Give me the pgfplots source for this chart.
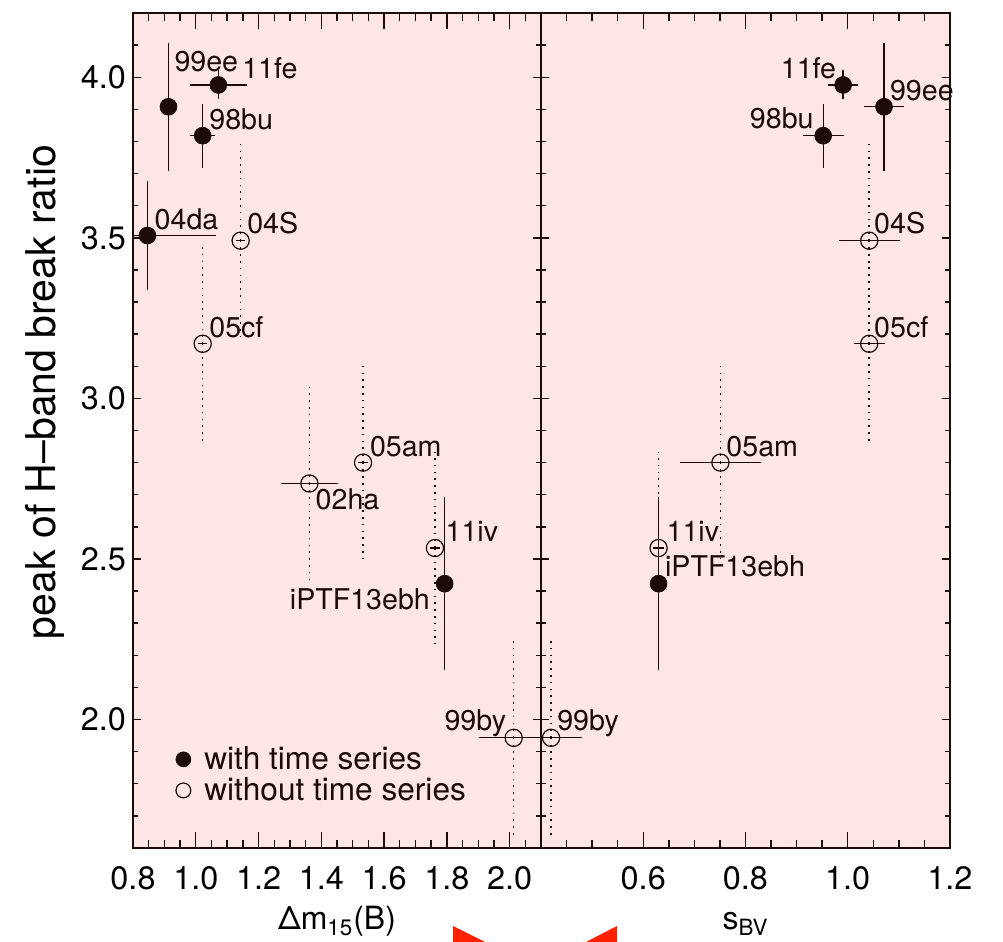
\documentclass[border=0pt]{standalone}
\usepackage{pgfplots}
\pgfplotsset{compat=1.18}
\usepackage{fontspec}
\setmainfont{TeX Gyre Heros}
\definecolor{bgpink}{RGB}{253,230,227}
\definecolor{ink}{RGB}{28,10,8}
\definecolor{arrowred}{RGB}{255,34,0}
\newcommand{\lab}{\fontsize{14.3}{16}\selectfont}
\begin{document}
\begin{tikzpicture}
\useasboundingbox (0pt,0pt) rectangle (501.5pt,471pt);
\pgfplotsset{
  panel/.style={
    scale only axis, height=417.5pt, anchor=south west,
    ymin=1.6, ymax=4.2,
    axis line style={ink, line width=0.8pt},
    tick style={ink, line width=0.7pt},
    tick align=inside,
    /pgf/number format/assume math mode=true,
    ticklabel style={font=\fontsize{16.2}{18}\selectfont, text=black},
  },
  main/.style={panel,
    major tick length=8pt, minor tick length=4pt,
    ytick={2.0,2.5,3.0,3.5,4.0},
    ytick style={draw=none},
    minor ytick={},
    xticklabel style={yshift=-5.5pt},
    axis background/.style={fill=bgpink},
    xlabel style={font=\fontsize{16}{18}\selectfont, at={(axis description cs:0.5,-0.0982)}, anchor=base},
  },
  over/.style={panel,
    major tick length=4pt, minor tick length=2.5pt,
    xtick=\empty, minor xtick={},
    ytick={2.0,2.5,3.0,3.5,4.0}, yticklabels={},
    minor ytick={1.6,1.7,...,4.2},
    axis line style={draw=none},
  },
  filled/.style={only marks, mark=*, mark size=4.2pt, color=ink, mark options={fill=ink, draw=ink},
    error bars/x dir=both, error bars/x explicit, error bars/y dir=both, error bars/y explicit,
    error bars/error mark=none,
    error bars/error bar style={line width=0.65pt, draw=ink, solid}},
  opendot/.style={draw=none, mark=none,
    error bars/y dir=both, error bars/y explicit, error bars/error mark=none,
    error bars/error bar style={line width=0.75pt, draw=ink, dash pattern=on 0.8pt off 2.6pt}},
  openmark/.style={only marks, mark=o, mark size=4.3pt, color=ink, mark options={draw=ink, line width=0.6pt, solid},
    error bars/x dir=both, error bars/x explicit, error bars/error mark=none,
    error bars/error bar style={line width=0.65pt, draw=ink, solid}},
}
% ---------------- left panel ----------------
\begin{axis}[main, at={(66.5pt,47pt)}, width=204pt,
  xmin=0.8, xmax=2.1,
  xtick={0.8,1.0,1.2,1.4,1.6,1.8,2.0},
  xticklabels={0.8,1.0,1.2,1.4,1.6,1.8,2.0},
  minor xtick={0.85,0.9,0.95,1.05,1.1,1.15,1.25,1.3,1.35,1.45,1.5,1.55,1.65,1.7,1.75,1.85,1.9,1.95,2.05},
  yticklabels={2.0,2.5,3.0,3.5,4.0},
  xlabel={Δm\textsubscript{15}(B)},
  ylabel={peak of H–band break ratio},
  ylabel style={font=\fontsize{20.5}{22}\selectfont, at={(axis description cs:-0.2157,0.546)}, anchor=center},
  legend style={at={(axis description cs:0.098,0.127)}, anchor=north west, draw=none, fill=none,
    font=\fontsize{15.8}{17}\selectfont, text=ink, inner xsep=0pt, inner ysep=0pt, row sep=-1.5pt},
  legend cell align=left,
]
\addplot[forget plot, filled] table[x=x, y=y, x error=ex, y error=ey] {
x y ex ey
0.913 3.908 0.00 0.20
1.072 3.976 0.09 0.045
1.022 3.818 0.04 0.10
0.846 3.507 0.22 0.17
1.793 2.423 0.00 0.27
};
\addplot[forget plot, opendot] table[x=x, y=y, y error=ey] {
x y ey
1.143 3.491 0.31
1.022 3.170 0.31
1.362 2.735 0.31
1.533 2.800 0.31
1.762 2.534 0.30
2.013 1.943 0.31
};
\addplot[forget plot, openmark] table[x=x, y=y, x error=ex] {
x y ex
1.143 3.491 0.015
1.022 3.170 0.015
1.362 2.735 0.09
1.533 2.800 0.015
1.762 2.534 0.015
2.013 1.943 0.11
};
\addlegendimage{legend image code/.code={\path[draw=none, fill=none] (-5pt,-5pt) rectangle (8.5pt,5pt); \fill[ink] (0pt,0pt) circle[radius=3.7pt];}}
\addlegendentry{with time series}
\addlegendimage{legend image code/.code={\path[draw=none, fill=none] (-5pt,-5pt) rectangle (8.5pt,5pt); \draw[ink, line width=0.6pt, fill=none] (0pt,0pt) circle[radius=3.7pt];}}
\addlegendentry{without time series}
\node[anchor=base west, inner sep=0, font=\lab, text=ink] at (axis cs:0.931,4.017) {99ee};
\node[anchor=base west, inner sep=0, font=\lab, text=ink] at (axis cs:1.147,3.995) {11fe};
\node[anchor=base west, inner sep=0, font=\lab, text=ink] at (axis cs:1.042,3.838) {98bu};
\node[anchor=base west, inner sep=0, font=\lab, text=ink] at (axis cs:0.868,3.527) {04da};
\node[anchor=base west, inner sep=0, font=\lab, text=ink] at (axis cs:1.163,3.512) {04S};
\node[anchor=base west, inner sep=0, font=\lab, text=ink] at (axis cs:1.042,3.191) {05cf};
\node[anchor=base west, inner sep=0, font=\lab, text=ink] at (axis cs:1.554,2.819) {05am};
\node[anchor=base west, inner sep=0, font=\lab, text=ink] at (axis cs:1.381,2.653) {02ha};
\node[anchor=base west, inner sep=0, font=\lab, text=ink] at (axis cs:1.795,2.555) {11iv};
\node[anchor=base east, inner sep=0, font=\lab, text=ink] at (axis cs:1.747,2.344) {iPTF13ebh};
\node[anchor=base east, inner sep=0, font=\lab, text=ink] at (axis cs:1.990,1.966) {99by};
\end{axis}
\begin{axis}[over, at={(66.5pt,47pt)}, width=204pt, xmin=0.8, xmax=2.1]
\end{axis}
% ---------------- right panel ----------------
\begin{axis}[main, at={(270.5pt,47pt)}, width=204.5pt, clip=false,
  xmin=0.4, xmax=1.2,
  xtick={0.4,0.6,0.8,1.0,1.2},
  xticklabels={,0.6,0.8,1.0,1.2},
  minor xtick={0.45,0.5,0.55,0.65,0.7,0.75,0.85,0.9,0.95,1.05,1.1,1.15},
  yticklabels={},
  xlabel={s\textsubscript{BV}},
]
\addplot[filled] table[x=x, y=y, x error=ex, y error=ey] {
x y ex ey
0.991 3.976 0.03 0.045
1.071 3.908 0.04 0.20
0.952 3.818 0.04 0.10
0.630 2.423 0.01 0.27
};
\addplot[opendot] table[x=x, y=y, y error=ey] {
x y ey
1.042 3.491 0.31
1.042 3.170 0.31
0.751 2.800 0.31
0.630 2.534 0.30
0.4197 1.943 0.31
};
\addplot[openmark] table[x=x, y=y, x error=ex] {
x y ex
1.042 3.491 0.06
1.042 3.170 0.03
0.751 2.800 0.08
0.630 2.534 0.01
0.4197 1.943 0.06
};
\node[anchor=base east, inner sep=0, font=\lab, text=ink] at (axis cs:0.978,3.995) {11fe};
\node[anchor=base west, inner sep=0, font=\lab, text=ink] at (axis cs:1.082,3.929) {99ee};
\node[anchor=base east, inner sep=0, font=\lab, text=ink] at (axis cs:0.934,3.841) {98bu};
\node[anchor=base west, inner sep=0, font=\lab, text=ink] at (axis cs:1.051,3.514) {04S};
\node[anchor=base west, inner sep=0, font=\lab, text=ink] at (axis cs:1.051,3.191) {05cf};
\node[anchor=base west, inner sep=0, font=\lab, text=ink] at (axis cs:0.762,2.819) {05am};
\node[anchor=base west, inner sep=0, font=\lab, text=ink] at (axis cs:0.645,2.555) {11iv};
\node[anchor=base west, inner sep=0, font=\lab, text=ink] at (axis cs:0.642,2.446) {iPTF13ebh};
\node[anchor=base west, inner sep=0, font=\lab, text=ink] at (axis cs:0.431,1.966) {99by};
\end{axis}
\begin{axis}[over, at={(270.5pt,47pt)}, width=204.5pt, xmin=0.4, xmax=1.2]
\end{axis}
\fill[arrowred] (226.5pt,8pt) -- (226.5pt,0pt) -- (242.5pt,0pt) -- cycle;
\fill[arrowred] (308.5pt,8pt) -- (308.5pt,0pt) -- (293pt,0pt) -- cycle;
\end{tikzpicture}
\end{document}
